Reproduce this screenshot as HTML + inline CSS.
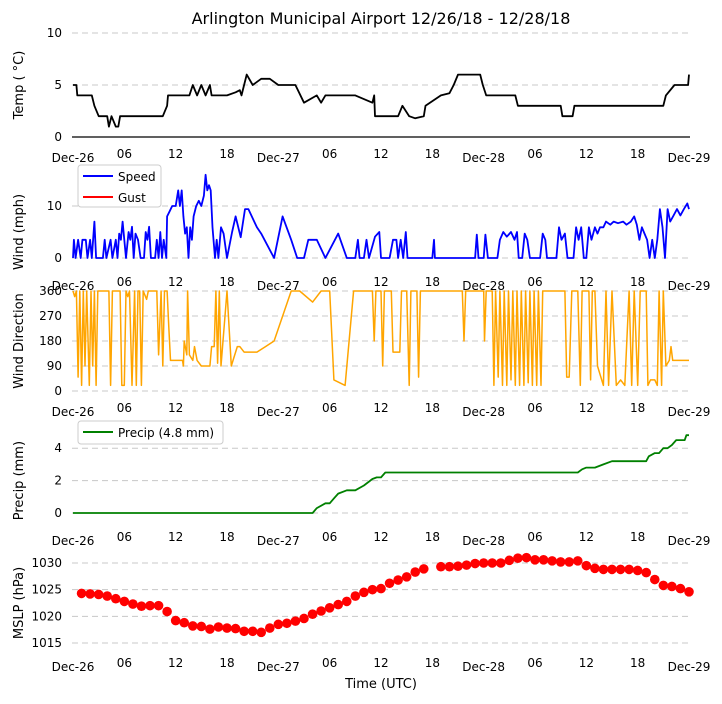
<!DOCTYPE html>
<html><head><meta charset="utf-8"><style>
body{margin:0;background:#fff;font-family:"DejaVu Sans","Liberation Sans",sans-serif}
svg text{font-family:"DejaVu Sans","Liberation Sans",sans-serif}
</style></head><body>
<svg id="c" width="722" height="700" xmlns="http://www.w3.org/2000/svg">
<text x="381" y="24" text-anchor="middle" font-size="16">Arlington Municipal Airport 12/26/18 - 12/28/18</text>
<text x="381" y="688" text-anchor="middle" font-size="13">Time (UTC)</text>
</svg>
<script>
const xTickLabels=["Dec-26","06","12","18","Dec-27","06","12","18","Dec-28","06","12","18","Dec-29"];
const tempHours=[0,0.4,0.5,2.2,2.5,3,4,4.2,4.5,5,5.3,5.5,10.5,11,11.1,13.6,14,14.5,15,15.5,16,16.2,18,19,19.5,19.7,20.3,21,22,23,24,26,27,28.5,29,29.5,31,33,35,35.2,35.3,36,38,38.5,39.3,40,41,41.2,43,44,44.5,45,47.6,47.9,48.3,51.7,52,57,57.2,58.4,58.6,69,69.3,70.3,71.9,72];
const tempVals=[5,5,4,4,3,2,2,1,2,1,1,2,2,3,4,4,5,4,5,4,5,4,4,4.3,4.5,4,6,5,5.6,5.6,5,5,3.3,4,3.3,4,4,4,3.3,4,2,2,2,3,2,1.8,2,3,4,4.2,5,6,6,5,4,4,3,3,2,2,3,3,4,5,5,6];
const windHours=[0,0.1,0.3,0.6,0.9,1.1,1.5,1.7,2,2.2,2.5,2.7,3.5,3.7,3.9,4.4,4.6,5,5.2,5.4,5.6,5.8,6,6.2,6.5,6.7,6.9,7.1,7.3,7.6,7.9,8.3,8.5,8.7,8.9,9.1,9.6,9.8,10,10.2,10.4,10.6,10.9,11,11.3,11.6,12,12.3,12.5,12.7,12.9,13.1,13.3,13.5,13.7,13.9,14.1,14.4,14.7,15,15.3,15.5,15.7,15.9,16.1,16.3,16.6,16.8,17,17.3,17.6,18,18.6,19,19.6,20.1,20.5,21.5,22,23.5,24.5,25.5,26.2,27,27.5,28.5,29.5,31,32,33,33.3,33.5,34,34.3,34.6,35.3,35.8,36,37,37.4,37.8,38,38.3,38.6,38.9,39.1,42,42.2,42.3,47,47.2,47.4,48,48.2,48.5,49.6,49.9,50.3,50.7,51.2,51.6,51.9,52.1,52.5,52.8,53.1,53.4,54.6,54.9,55.2,55.4,56.5,56.8,57.1,57.5,57.8,58.5,58.8,59.1,59.4,59.7,60,60.3,60.6,61,61.3,61.6,62,62.3,62.8,63.2,63.7,64.3,64.7,65.2,65.6,65.9,66.2,66.5,66.8,67.1,67.4,67.7,68,68.3,68.6,68.9,69.2,69.5,69.8,70.2,70.6,71,71.4,71.8,72];
const windVals=[0,3.5,0,3.5,0,3.5,3.5,0,3.5,0,7,0,0,3.5,0,3.5,0,3.5,0,4.7,3.5,7,3.5,0,5,3.5,6,0,4.7,3.5,0,0,5,3.5,6,0,0,3.5,0,5,0,3.5,0,8,9,10,10,13,10,13,8,4.7,5.9,0,5.9,3.5,8,10,11,10,12,16,13,14,13,5.9,0,3.5,0,5.9,4.7,0,5,8,4,9.4,9.4,5.9,4.7,0,8,3.5,0,0,3.5,3.5,0,4.7,0,0,3.5,0,0,3.5,0,4.1,5,0,0,3.5,3.5,0,3.5,0,5,0,0,3.5,0,0,4.5,0,0,4.5,0,0,3.5,5,4.1,5,3.5,5,0,0,4.7,3.5,0,0,4.7,3.5,0,0,5.9,3.5,4.7,0,0,5.9,3.5,5.9,0,0,5.9,3.5,5.9,4.7,5.9,5.9,7,6.4,7,6.7,7,6.4,7,8,6.4,3.5,5.9,4.7,3.5,0,3.5,0,3.5,9.4,5.9,0,9.4,7,8.2,9.4,8.2,9.4,10.5,9.4];
const dirHours=[0,0.2,0.4,0.6,0.8,1,1.2,1.4,1.6,1.9,2.1,2.3,2.5,2.7,2.9,4.2,4.4,4.6,5.5,5.7,6,6.2,6.4,6.6,6.9,7.2,7.4,7.6,7.8,8,8.2,8.6,8.8,9.8,10,10.3,10.5,10.7,11,11.2,11.4,12,12.8,12.9,13,13.3,13.4,13.6,14,14.2,14.5,15,16,16.2,16.5,16.7,16.9,17.1,17.3,18,18.5,19.2,19.5,20,21.5,22.5,23.5,25.5,26.5,28,29,30,30.5,31.8,32.8,35,35.2,35.4,36,36.2,36.4,37.2,37.4,38.2,38.4,39,39.3,39.5,40.2,40.4,40.6,45.5,45.7,45.9,48,48.1,48.3,49,49.2,49.4,49.7,49.9,50.2,50.4,50.7,50.9,51.2,51.4,51.7,51.9,52.2,52.4,52.7,52.9,53.2,53.4,53.7,53.9,54.2,54.4,54.7,54.9,55.2,57.5,57.7,58,58.3,59,59.3,59.5,60.3,60.5,60.7,61,61.3,61.6,62,62.3,62.6,63,63.5,64,64.5,65,65.3,65.6,66,66.3,67,67.2,67.5,68,68.3,68.5,68.8,69,69.3,69.7,69.9,70.1,72];
const dirVals=[360,340,360,50,360,20,360,90,360,20,360,90,360,20,360,360,20,360,360,20,20,360,340,360,20,360,20,360,360,20,360,330,360,360,130,360,90,360,360,230,110,110,110,90,180,130,360,130,110,160,110,90,90,160,160,360,100,360,90,360,90,160,160,140,140,160,180,360,360,320,360,360,40,20,360,360,180,360,360,90,360,360,140,140,360,360,20,360,360,50,360,360,180,360,360,180,360,360,20,360,50,360,20,360,20,360,40,360,20,360,20,360,20,360,30,360,20,360,20,360,20,360,360,360,50,50,360,360,20,360,360,40,360,360,90,60,20,360,20,360,20,40,20,360,20,360,20,360,360,20,40,40,20,360,20,360,90,110,160,110,110];
const precipHours=[0,28,28.5,29.5,30,30.5,31,32,33,34,35,35.5,36,36.5,37,59,59.5,60,61,62,63,67,67.3,68,68.5,69,69.5,70,70.5,71.5,71.7,72];
const precipVals=[0,0,0.3,0.6,0.6,0.9,1.2,1.4,1.4,1.7,2.1,2.2,2.2,2.5,2.5,2.5,2.7,2.8,2.8,3.0,3.2,3.2,3.5,3.7,3.7,4.0,4.0,4.2,4.5,4.5,4.8,4.8];
const mslpHours=[1,2,3,4,5,6,7,8,9,10,11,12,13,14,15,16,17,18,19,20,21,22,23,24,25,26,27,28,29,30,31,32,33,34,35,36,37,38,39,40,41,43,44,45,46,47,48,49,50,51,52,53,54,55,56,57,58,59,60,61,62,63,64,65,66,67,68,69,70,71,72];
const mslpVals=[1024.3,1024.2,1024.1,1023.8,1023.3,1022.8,1022.3,1021.9,1022.0,1022.0,1020.9,1019.2,1018.8,1018.2,1018.1,1017.6,1018.0,1017.8,1017.7,1017.2,1017.2,1017.0,1017.8,1018.5,1018.7,1019.1,1019.6,1020.4,1021.0,1021.6,1022.2,1022.8,1023.8,1024.5,1025.0,1025.2,1026.2,1026.8,1027.4,1028.3,1028.9,1029.3,1029.3,1029.4,1029.6,1029.9,1030.0,1030.0,1030.0,1030.5,1030.9,1031.0,1030.6,1030.6,1030.4,1030.2,1030.2,1030.4,1029.5,1029.0,1028.8,1028.8,1028.8,1028.8,1028.6,1028.2,1026.9,1025.8,1025.6,1025.2,1024.6];

const svg=document.getElementById('c');
const NS='http://www.w3.org/2000/svg';
function X(h){return 73+h*616/72;}
function mk(tag,attrs,parent){const e=document.createElementNS(NS,tag);for(const k in attrs)e.setAttribute(k,attrs[k]);(parent||svg).appendChild(e);return e;}
function panel(name,ylabel,ticks,tickLabels,Y,labelY,solidZero){
  const g=mk('g',{});
  
  
  ticks.forEach((t,i)=>{
    const gl=mk('line',{x1:72,x2:690,y1:Y(t),y2:Y(t),stroke:(solidZero&&t===0)?'#000':'#c8c8c8','stroke-width':(solidZero&&t===0)?1.2:1,'stroke-dasharray':(solidZero&&t===0)?'none':'6,4'},g);
    
    
    const tl=mk('text',{x:62,y:Y(t)+4,'text-anchor':'end','font-size':12},g);
    tl.textContent=tickLabels[i];
    
    
  });
  const midY=(Y(ticks[0])+Y(ticks[ticks.length-1]))/2;
  const yl=mk('text',{x:0,y:0,transform:'translate(23,'+midY+') rotate(-90)','text-anchor':'middle','font-size':13},g);
  yl.textContent=ylabel;
  
  
  xTickLabels.forEach((s,i)=>{
    const isDate=s.startsWith('Dec');
    const t=mk('text',{x:X(i*6),y:labelY+(isDate?4:0),'text-anchor':'middle','font-size':12},g);
    t.textContent=s;
    
    
  });
  return g;
}
function line(g,hs,vs,Y,color,name,w){
  const d=hs.map((h,i)=>(i?'L':'M')+X(h).toFixed(1)+','+Y(vs[i]).toFixed(1)).join('');
  const p=mk('path',{d:d,fill:'none',stroke:color,'stroke-width':w||1.8,'stroke-linejoin':'round'},g);
  
  
}
// Temp
const Yt=v=>137-v*10.4;
let g=panel('temp','Temp ( °C)',[0,5,10],['0','5','10'],Yt,158,true);
line(g,tempHours,tempVals,Yt,'#000','temp-line',1.8);
// Wind
const Yw=v=>258-v*5.2;
g=panel('wind','Wind (mph)',[0,10],['0','10'],Yw,286,false);
line(g,windHours,windVals,Yw,'#0000ff','wind-speed-line',1.8);
let lg=mk('g',{},g);


mk('rect',{x:78,y:165,width:83,height:42,fill:'#fff',stroke:'#ccc',rx:3},lg);
mk('line',{x1:83,x2:113,y1:176,y2:176,stroke:'#0000ff','stroke-width':2},lg);
mk('line',{x1:83,x2:113,y1:197,y2:197,stroke:'#ff0000','stroke-width':2},lg);
let t=mk('text',{x:118,y:181,'font-size':12},lg);t.textContent='Speed';


t=mk('text',{x:118,y:202,'font-size':12},lg);t.textContent='Gust';


// Direction
const Yd=v=>391-v*100/360;
g=panel('direction','Wind Direction',[0,90,180,270,360],['0','90','180','270','360'],Yd,412,false);
line(g,dirHours,dirVals,Yd,'#ffa500','wind-direction-line',1.5);
// Precip
const Yp=v=>513-v*16.2;
g=panel('precip','Precip (mm)',[0,2,4],['0','2','4'],Yp,541,false);
line(g,precipHours,precipVals,Yp,'#008000','precip-line',1.8);
lg=mk('g',{},g);


mk('rect',{x:78,y:421,width:145,height:23,fill:'#fff',stroke:'#ccc',rx:3},lg);
mk('line',{x1:83,x2:113,y1:432,y2:432,stroke:'#008000','stroke-width':2},lg);
t=mk('text',{x:118,y:437,'font-size':12},lg);t.textContent='Precip (4.8 mm)';


// MSLP
const Ym=v=>643-(v-1015)*16/3;
g=panel('mslp','MSLP (hPa)',[1015,1020,1025,1030],['1015','1020','1025','1030'],Ym,667,false);
mslpHours.forEach((h,i)=>{
  const c=mk('circle',{cx:X(h),cy:Ym(mslpVals[i]),r:4.8,fill:'#ff0000'},g);
  
  
});
</script>
</body></html>
